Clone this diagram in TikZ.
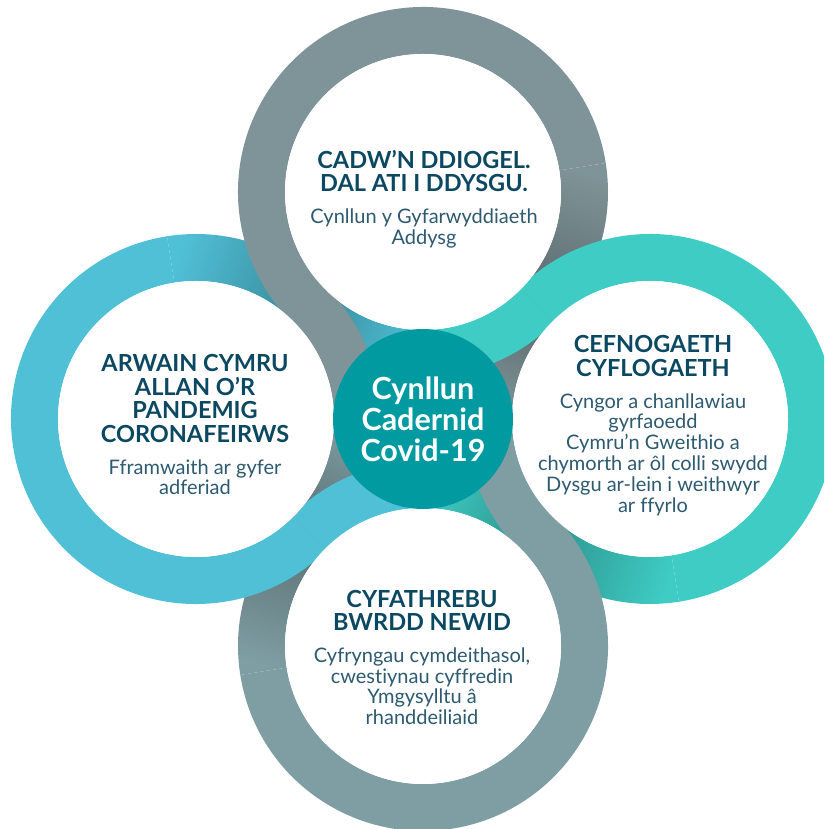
\documentclass[tikz,border=0pt]{standalone}
\usepackage{fontspec}
\setmainfont{Lato}[Ligatures=NoCommon]
\usepackage{tikz}
\usetikzlibrary{calc, positioning}

\definecolor{topgrey}{RGB}{127,148,152}
\definecolor{botgrey}{RGB}{127,158,163}
\definecolor{ringblue}{RGB}{80,192,215}
\definecolor{ringteal}{RGB}{62,204,196}
\definecolor{hubteal}{RGB}{0,154,160}
\definecolor{headnavy}{RGB}{11,72,98}
\definecolor{bodynavy}{RGB}{44,90,112}

% one piece of a ring, between two angles
\newcommand{\bandseg}[3]{($(#1)+(#2:185pt)$) arc[start angle=#2, end angle=#3, radius=185pt] -- ($(#1)+(#3:138pt)$) arc[start angle=#3, end angle=#2, radius=138pt] -- cycle}

\tikzset{
  head/.style={text=headnavy, font=\bfseries\fontsize{23.5}{23.5}\selectfont, align=center, inner sep=0pt},
  body/.style={text=bodynavy, font=\fontsize{20}{20.8}\selectfont, align=center, inner sep=0pt},
  hub/.style={circle, fill=hubteal, minimum size=180pt, inner sep=0pt, text=white, font=\bfseries\fontsize{30.5}{31}\selectfont, align=center}
}

\begin{document}
\begin{tikzpicture}[x=1pt, y=1pt]
        \useasboundingbox (0,0) rectangle (824,829);
        \clip (0,0) rectangle (824,829);

        \coordinate (C) at (423,410);
        \coordinate (T) at (423,637);
        \coordinate (L) at (196,410);
        \coordinate (R) at (650,410);
        \coordinate (B) at (423,183);

        % pieces that run under a crossing, darker towards it
        \foreach \c/\a/\b/\col in {L/45/99/ringblue, T/225/270/ringblue, T/-45/9/topgrey, R/135/180/topgrey, R/-135/-81/ringteal, B/45/90/ringteal, B/135/189/botgrey, L/315/360/botgrey}{
            \pgfmathsetmacro{\sa}{(\a+\b)/2-180}
            \shade[top color=\col!70!black, bottom color=\col, shading angle=\sa] \bandseg{\c}{\a}{\b};
        }

        % pieces on top
        \fill[topgrey] \bandseg{T}{9}{225};
        \fill[topgrey] \bandseg{L}{0}{45};
        \fill[ringteal] \bandseg{R}{-81}{135};
        \fill[ringteal] \bandseg{T}{270}{315};
        \fill[botgrey] \bandseg{B}{189}{405};
        \fill[botgrey] \bandseg{R}{180}{225};
        \fill[ringblue] \bandseg{L}{99}{315};
        \fill[ringblue] \bandseg{B}{90}{135};

        \foreach \c in {T,L,R,B}
            \fill[white] (\c) circle (138pt);

        \node[hub] (hub) at (C) {Cynllun\\Cadernid\\Covid-19};

        \node[head] (topHead) at ($(T)+(1,21)$) {CADW’N DDIOGEL.\\DAL ATI I DDYSGU.};
        \node[body, below=16.5pt of topHead] (topBody) {Cynllun y Gyfarwyddiaeth\\Addysg};

        \node[head] (leftHead) at ($(L)+(-1,20.5)$) {ARWAIN CYMRU\\ALLAN O’R\\PANDEMIG\\CORONAFEIRWS};
        \node[body, below=16.5pt of leftHead] (leftBody) {Fframwaith ar gyfer\\adferiad};

        \node[head] (rightHead) at ($(R)+(3,63)$) {CEFNOGAETH\\CYFLOGAETH};
        \node[body, below=16.5pt of rightHead] (rightBody) {Cyngor a chanllawiau\\gyrfaoedd\\Cymru’n Gweithio a\\chymorth ar ôl colli swydd\\Dysgu ar-lein i weithwyr\\ar ffyrlo};

        \node[head] (botHead) at ($(B)+(-1,35.7)$) {CYFATHREBU\\BWRDD NEWID};
        \node[body, below=16.5pt of botHead] (botBody) {Cyfryngau cymdeithasol,\\cwestiynau cyffredin\\Ymgysylltu â\\rhanddeiliaid};

    \end{tikzpicture}
\end{document}
